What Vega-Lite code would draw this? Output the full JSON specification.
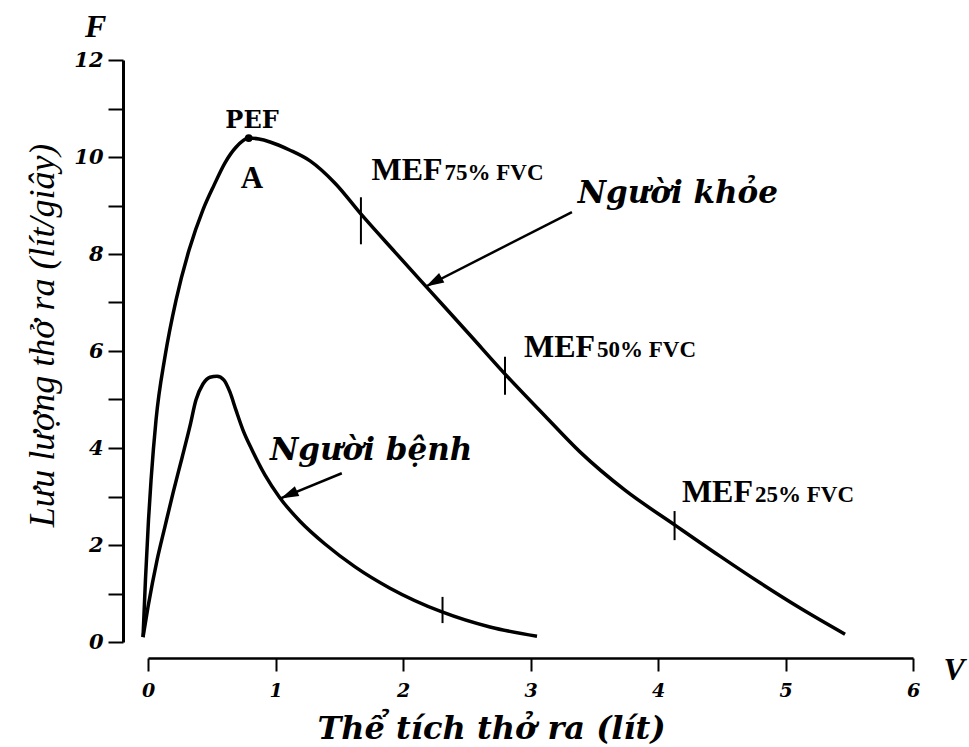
{
  "$schema": "https://vega.github.io/schema/vega-lite/v6.json",
  "width": 765,
  "height": 582,
  "autosize": {"type": "none"},
  "padding": {"left": 148, "top": 60, "right": 56, "bottom": 105},
  "background": "white",
  "config": {"view": {"stroke": null}},
  "datasets": {
    "curves": [
      {"series": "Người khỏe", "volume": -0.039, "flow": 0.1},
      {"series": "Người khỏe", "volume": -0.02, "flow": 1.28},
      {"series": "Người khỏe", "volume": 0.004, "flow": 2.52},
      {"series": "Người khỏe", "volume": 0.024, "flow": 3.34},
      {"series": "Người khỏe", "volume": 0.063, "flow": 4.58},
      {"series": "Người khỏe", "volume": 0.133, "flow": 5.88},
      {"series": "Người khỏe", "volume": 0.22, "flow": 7.05},
      {"series": "Người khỏe", "volume": 0.322, "flow": 8.08},
      {"series": "Người khỏe", "volume": 0.431, "flow": 8.91},
      {"series": "Người khỏe", "volume": 0.518, "flow": 9.42},
      {"series": "Người khỏe", "volume": 0.604, "flow": 9.88},
      {"series": "Người khỏe", "volume": 0.69, "flow": 10.2},
      {"series": "Người khỏe", "volume": 0.79, "flow": 10.39},
      {"series": "Người khỏe", "volume": 0.87, "flow": 10.37},
      {"series": "Người khỏe", "volume": 0.957, "flow": 10.31},
      {"series": "Người khỏe", "volume": 1.114, "flow": 10.14},
      {"series": "Người khỏe", "volume": 1.271, "flow": 9.92},
      {"series": "Người khỏe", "volume": 1.467, "flow": 9.46},
      {"series": "Người khỏe", "volume": 1.678, "flow": 8.8},
      {"series": "Người khỏe", "volume": 1.937, "flow": 8.04},
      {"series": "Người khỏe", "volume": 2.212, "flow": 7.24},
      {"series": "Người khỏe", "volume": 2.525, "flow": 6.33},
      {"series": "Người khỏe", "volume": 2.816, "flow": 5.48},
      {"series": "Người khỏe", "volume": 3.114, "flow": 4.66},
      {"series": "Người khỏe", "volume": 3.388, "flow": 3.92},
      {"series": "Người khỏe", "volume": 3.741, "flow": 3.13},
      {"series": "Người khỏe", "volume": 4.133, "flow": 2.41},
      {"series": "Người khỏe", "volume": 4.486, "flow": 1.77},
      {"series": "Người khỏe", "volume": 4.8, "flow": 1.22},
      {"series": "Người khỏe", "volume": 5.114, "flow": 0.7},
      {"series": "Người khỏe", "volume": 5.467, "flow": 0.16},
      {"series": "Người bệnh", "volume": -0.039, "flow": 0.1},
      {"series": "Người bệnh", "volume": 0.0, "flow": 0.72},
      {"series": "Người bệnh", "volume": 0.071, "flow": 1.69},
      {"series": "Người bệnh", "volume": 0.133, "flow": 2.38},
      {"series": "Người bệnh", "volume": 0.196, "flow": 3.07},
      {"series": "Người bệnh", "volume": 0.267, "flow": 3.8},
      {"series": "Người bệnh", "volume": 0.329, "flow": 4.45},
      {"series": "Người bệnh", "volume": 0.376, "flow": 4.99},
      {"series": "Người bệnh", "volume": 0.431, "flow": 5.32},
      {"series": "Người bệnh", "volume": 0.486, "flow": 5.46},
      {"series": "Người bệnh", "volume": 0.541, "flow": 5.48},
      {"series": "Người bệnh", "volume": 0.596, "flow": 5.4},
      {"series": "Người bệnh", "volume": 0.643, "flow": 5.15},
      {"series": "Người bệnh", "volume": 0.69, "flow": 4.78},
      {"series": "Người bệnh", "volume": 0.745, "flow": 4.37},
      {"series": "Người bệnh", "volume": 0.816, "flow": 3.96},
      {"series": "Người bệnh", "volume": 0.918, "flow": 3.44},
      {"series": "Người bệnh", "volume": 1.035, "flow": 2.97},
      {"series": "Người bệnh", "volume": 1.192, "flow": 2.49},
      {"series": "Người bệnh", "volume": 1.388, "flow": 2.02},
      {"series": "Người bệnh", "volume": 1.624, "flow": 1.55},
      {"series": "Người bệnh", "volume": 1.898, "flow": 1.11},
      {"series": "Người bệnh", "volume": 2.306, "flow": 0.62},
      {"series": "Người bệnh", "volume": 2.682, "flow": 0.31},
      {"series": "Người bệnh", "volume": 3.051, "flow": 0.12}
    ],
    "curve_ticks": [
      {"point": "MEF75", "volume": 1.67, "flow": 8.2, "flow_high": 9.17},
      {"point": "MEF50", "volume": 2.8, "flow": 5.1, "flow_high": 5.88},
      {"point": "MEF25", "volume": 4.13, "flow": 2.1, "flow_high": 2.7},
      {"point": "Người bệnh", "volume": 2.31, "flow": 0.39, "flow_high": 0.93}
    ],
    "pef": [{"volume": 0.79, "flow": 10.39}],
    "arrows": [
      {"series": "Người khỏe", "volume": 3.325, "flow": 8.865, "volume_tip": 2.18, "flow_tip": 7.33},
      {"series": "Người bệnh", "volume": 1.52, "flow": 3.48, "volume_tip": 1.04, "flow_tip": 2.96}
    ],
    "mef_main": [
      {"text": "MEF", "volume": 2.318, "flow": 9.526},
      {"text": "MEF", "volume": 3.514, "flow": 5.876},
      {"text": "MEF", "volume": 4.753, "flow": 2.887}
    ],
    "mef_sub": [
      {"text": "75% FVC", "volume": 2.318, "flow": 9.526},
      {"text": "50% FVC", "volume": 3.514, "flow": 5.876},
      {"text": "25% FVC", "volume": 4.753, "flow": 2.887}
    ],
    "names": [
      {"text": "Người khỏe", "volume": 3.37, "flow": 9.05},
      {"text": "Người bệnh", "volume": 0.957, "flow": 3.75}
    ],
    "pef_text": [{"text": "PEF", "volume": 0.816, "flow": 10.6}],
    "a_text": [{"text": "A", "volume": 0.816, "flow": 9.36}],
    "axis_letters": [
      {"text": "F", "volume": -0.494, "flow": 12.47},
      {"text": "V", "volume": 6.24, "flow": -0.78}
    ]
  },
  "layer": [
    {
      "data": {"name": "curves"},
      "mark": {"type": "line", "interpolate": "monotone", "color": "black", "strokeWidth": 3.5, "clip": false},
      "encoding": {
        "x": {
          "field": "volume", "type": "quantitative",
          "scale": {"domain": [0, 6], "nice": false, "zero": false},
          "axis": {
            "title": "Thể tích thở ra (lít)",
            "values": [0, 1, 2, 3, 4, 5, 6],
            "format": "d",
            "offset": 16,
            "grid": false,
            "domainColor": "black", "domainWidth": 2.5,
            "tickColor": "black", "tickWidth": 2, "tickSize": 13,
            "labelColor": "black", "labelFont": "DejaVu Serif", "labelFontStyle": "italic", "labelFontWeight": "bold", "labelFontSize": 19, "labelPadding": 10, "labelFlush": false,
            "titleColor": "black", "titleFont": "DejaVu Serif", "titleFontStyle": "italic", "titleFontWeight": "bold", "titleFontSize": 32,
            "titleX": 343, "titleY": 80, "titleBaseline": "alphabetic", "titleAlign": "center"
          }
        },
        "y": {
          "field": "flow", "type": "quantitative",
          "scale": {"domain": [0, 12], "nice": false, "zero": false},
          "axis": {
            "title": "Lưu lượng thở ra (lít/giây)",
            "values": [0, 1, 2, 3, 4, 5, 6, 7, 8, 9, 10, 11, 12],
            "format": "d",
            "labelExpr": "datum.value % 2 === 0 ? datum.label : ''",
            "offset": 25,
            "grid": false,
            "domainColor": "black", "domainWidth": 3,
            "tickColor": "black", "tickWidth": 2, "tickSize": 15,
            "labelColor": "black", "labelFont": "DejaVu Serif", "labelFontStyle": "italic", "labelFontWeight": "bold", "labelFontSize": 21, "labelPadding": 5, "labelFlush": false,
            "titleColor": "black", "titleFont": "Liberation Serif", "titleFontStyle": "italic", "titleFontWeight": "normal", "titleFontSize": 36,
            "titlePadding": 12, "titleY": 275
          }
        },
        "detail": {"field": "series"}
      }
    },
    {
      "data": {"name": "curve_ticks"},
      "mark": {"type": "rule", "color": "black", "strokeWidth": 2},
      "encoding": {
        "x": {"field": "volume", "type": "quantitative"},
        "y": {"field": "flow", "type": "quantitative"},
        "y2": {"field": "flow_high"}
      }
    },
    {
      "data": {"name": "pef"},
      "mark": {"type": "point", "filled": true, "color": "black", "size": 60, "opacity": 1},
      "encoding": {
        "x": {"field": "volume", "type": "quantitative"},
        "y": {"field": "flow", "type": "quantitative"}
      }
    },
    {
      "data": {"name": "arrows"},
      "mark": {"type": "rule", "color": "black", "strokeWidth": 2.5},
      "encoding": {
        "x": {"field": "volume", "type": "quantitative"},
        "y": {"field": "flow", "type": "quantitative"},
        "x2": {"field": "volume_tip"},
        "y2": {"field": "flow_tip"}
      }
    },
    {
      "data": {"name": "arrows"},
      "transform": [{"filter": "datum.series === 'Người khỏe'"}],
      "mark": {"type": "point", "shape": "M0,0L0.3,1L-0.3,1Z", "filled": true, "color": "black", "opacity": 1, "size": 1300, "angle": 241},
      "encoding": {
        "x": {"field": "volume_tip", "type": "quantitative"},
        "y": {"field": "flow_tip", "type": "quantitative"}
      }
    },
    {
      "data": {"name": "arrows"},
      "transform": [{"filter": "datum.series === 'Người bệnh'"}],
      "mark": {"type": "point", "shape": "M0,0L0.3,1L-0.3,1Z", "filled": true, "color": "black", "opacity": 1, "size": 1300, "angle": 246},
      "encoding": {
        "x": {"field": "volume_tip", "type": "quantitative"},
        "y": {"field": "flow_tip", "type": "quantitative"}
      }
    },
    {
      "data": {"name": "mef_main"},
      "mark": {"type": "text", "align": "right", "baseline": "alphabetic", "font": "Liberation Serif", "fontWeight": "bold", "fontSize": 32, "color": "black", "dx": -1},
      "encoding": {
        "x": {"field": "volume", "type": "quantitative"},
        "y": {"field": "flow", "type": "quantitative"},
        "text": {"field": "text"}
      }
    },
    {
      "data": {"name": "mef_sub"},
      "mark": {"type": "text", "align": "left", "baseline": "alphabetic", "font": "Liberation Serif", "fontWeight": "bold", "fontSize": 23, "color": "black", "dx": 1},
      "encoding": {
        "x": {"field": "volume", "type": "quantitative"},
        "y": {"field": "flow", "type": "quantitative"},
        "text": {"field": "text"}
      }
    },
    {
      "data": {"name": "names"},
      "mark": {"type": "text", "align": "left", "baseline": "alphabetic", "font": "DejaVu Serif", "fontStyle": "italic", "fontWeight": "bold", "fontSize": 31, "color": "black"},
      "encoding": {
        "x": {"field": "volume", "type": "quantitative"},
        "y": {"field": "flow", "type": "quantitative"},
        "text": {"field": "text"}
      }
    },
    {
      "data": {"name": "pef_text"},
      "mark": {"type": "text", "align": "center", "baseline": "alphabetic", "font": "DejaVu Serif", "fontWeight": "bold", "fontSize": 24, "color": "black"},
      "encoding": {
        "x": {"field": "volume", "type": "quantitative"},
        "y": {"field": "flow", "type": "quantitative"},
        "text": {"field": "text"}
      }
    },
    {
      "data": {"name": "a_text"},
      "mark": {"type": "text", "align": "center", "baseline": "alphabetic", "font": "Liberation Serif", "fontWeight": "bold", "fontSize": 31, "color": "black"},
      "encoding": {
        "x": {"field": "volume", "type": "quantitative"},
        "y": {"field": "flow", "type": "quantitative"},
        "text": {"field": "text"}
      }
    },
    {
      "data": {"name": "axis_letters"},
      "mark": {"type": "text", "align": "left", "baseline": "alphabetic", "font": "Liberation Serif", "fontStyle": "italic", "fontWeight": "bold", "fontSize": 32, "color": "black"},
      "encoding": {
        "x": {"field": "volume", "type": "quantitative"},
        "y": {"field": "flow", "type": "quantitative"},
        "text": {"field": "text"}
      }
    }
  ]
}
